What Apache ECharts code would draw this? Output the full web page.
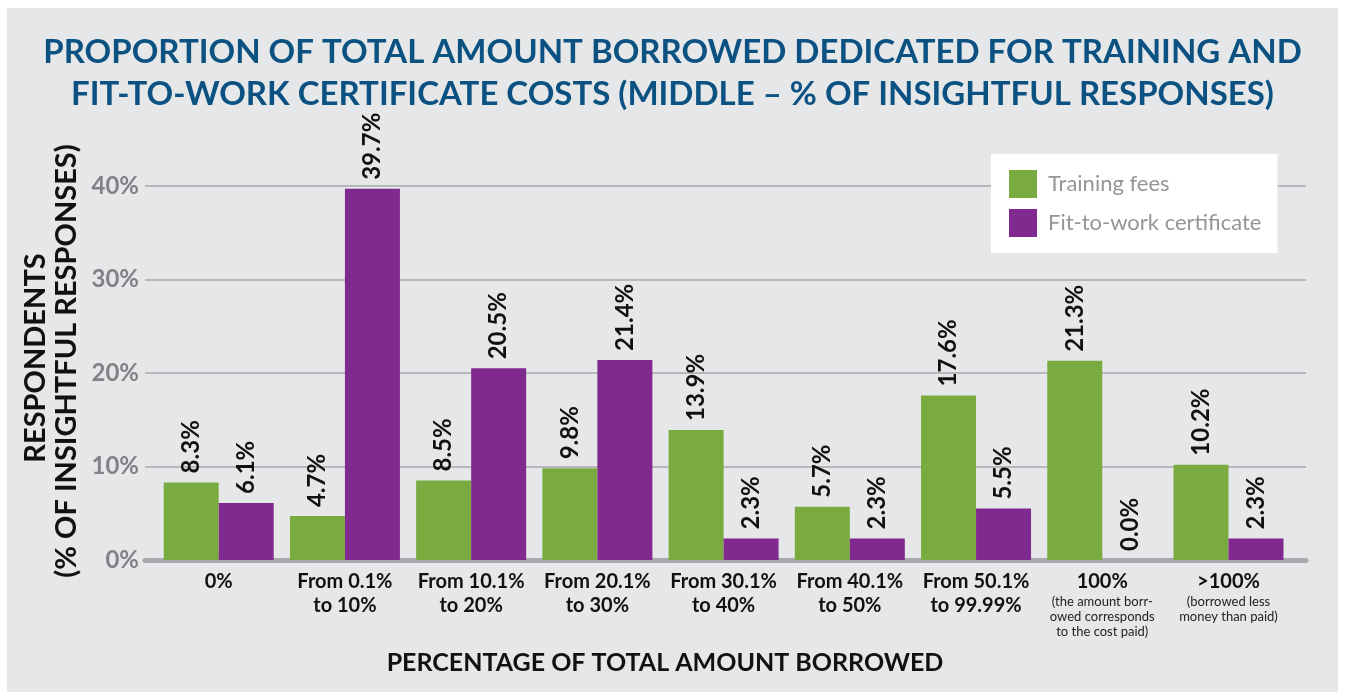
<!DOCTYPE html>
<html>
<head>
<meta charset="utf-8">
<script src="https://cdn.jsdelivr.net/npm/echarts@6/dist/echarts.min.js"></script>
<style>
  html, body { margin: 0; padding: 0; background: #fff; }
  #bg { position: absolute; left: 7px; top: 8px; width: 1331px; height: 684px; background: #e6e7e8; }
  #chart { position: absolute; left: 0; top: 0; width: 1345px; height: 698px; }
</style>
</head>
<body>
<div id="bg"></div>
<div id="chart"></div>
<script>
const categories = ['0%', 'From 0.1%\nto 10%', 'From 10.1%\nto 20%', 'From 20.1%\nto 30%', 'From 30.1%\nto 40%',
  'From 40.1%\nto 50%', 'From 50.1%\nto 99.99%', '100%', '>100%'];
const subLabels = ['', '', '', '', '', '', '', '(the amount borr-\nowed corresponds\nto the cost paid)', '(borrowed less\nmoney than paid)'];
const trainingFees = [8.3, 4.7, 8.5, 9.8, 13.9, 5.7, 17.6, 21.3, 10.2];
const fitToWork = [6.1, 39.7, 20.5, 21.4, 2.3, 2.3, 5.5, 0.0, 2.3];
const yTicks = [0, 10, 20, 30, 40];

const font = 'Lato, "Open Sans", sans-serif';

const valueLabel = {
  show: true,
  position: 'top',
  rotate: 90,
  align: 'left',
  verticalAlign: 'middle',
  distance: 9,
  fontFamily: font,
  fontWeight: 'bold',
  fontSize: 24,
  color: '#111',
  formatter: p => p.value.toFixed(1) + '%'
};

const myChart = echarts.init(document.getElementById('chart'));
myChart.setOption({
  backgroundColor: 'transparent',
  title: {
    text: 'PROPORTION OF TOTAL AMOUNT BORROWED DEDICATED FOR TRAINING AND\nFIT-TO-WORK CERTIFICATE COSTS (MIDDLE \u2013 % OF INSIGHTFUL RESPONSES)',
    left: 'center',
    top: 26,
    textStyle: {
      fontFamily: font,
      fontWeight: 'bold',
      fontSize: 33,
      lineHeight: 42,
      color: '#0b5282'
    }
  },
  legend: {
    orient: 'vertical',
    left: 991,
    top: 154,
    backgroundColor: '#fff',
    padding: [16, 16, 16, 18],
    itemWidth: 28,
    itemHeight: 28,
    itemGap: 11,
    icon: 'rect',
    textStyle: { fontFamily: font, fontSize: 22, color: '#939598', padding: [0, 0, 0, 6] },
    data: ['Training fees', 'Fit-to-work certificate']
  },
  graphic: [
    {
      type: 'text', x: 36, y: 358, rotation: Math.PI / 2,
      style: { text: 'RESPONDENTS', fontFamily: font, fontWeight: 'bold', fontSize: 29, fill: '#111', align: 'center', verticalAlign: 'middle' }
    },
    {
      type: 'text', x: 67, y: 361, rotation: Math.PI / 2,
      style: { text: '(% OF INSIGHTFUL RESPONSES)', fontFamily: font, fontWeight: 'bold', fontSize: 29, fill: '#111', align: 'center', verticalAlign: 'middle' }
    },
    {
      type: 'text', x: 665, y: 663,
      style: { text: 'PERCENTAGE OF TOTAL AMOUNT BORROWED', fontFamily: font, fontWeight: 'bold', fontSize: 25, fill: '#111', align: 'center', verticalAlign: 'middle' }
    }
  ],
  grid: [
    { left: 155.6, top: 186, width: 1136, height: 374 },
    { left: 145, top: 186, width: 1161, height: 374 }
  ],
  xAxis: [
    {
      gridIndex: 0,
      type: 'category',
      data: categories,
      axisLine: { show: false },
      axisTick: { show: false },
      axisLabel: {
        interval: 0,
        margin: 10,
        formatter: (v, i) => {
          const main = v.split('\n').map(s => '{m|' + s + '}').join('\n');
          const sub = subLabels[i] ? '\n' + subLabels[i].split('\n').map(s => '{s|' + s + '}').join('\n') : '';
          return main + sub;
        },
        rich: {
          m: { fontFamily: font, fontWeight: 'bold', fontSize: 20, color: '#111', lineHeight: 24 },
          s: { fontFamily: font, fontSize: 13, color: '#222', lineHeight: 15 }
        }
      }
    },
    {
      gridIndex: 1,
      type: 'value',
      min: 0,
      max: 1,
      axisLine: { show: true, lineStyle: { color: '#a7a9ac', width: 5 } },
      axisTick: { show: false },
      axisLabel: { show: false },
      splitLine: { show: false }
    }
  ],
  yAxis: [
    { gridIndex: 0, type: 'value', min: 0, max: 40, interval: 10, show: false },
    {
      gridIndex: 1,
      type: 'value',
      min: yTicks[0],
      max: yTicks[yTicks.length - 1],
      interval: 10,
      axisLine: { show: false },
      axisTick: { show: false },
      axisLabel: { margin: 6, formatter: '{value}%', fontFamily: font, fontWeight: 'bold', fontSize: 24, color: '#808285' },
      splitLine: { lineStyle: { color: '#a7a9ac', width: 1.5 } }
    }
  ],
  series: [
    {
      name: 'Training fees',
      type: 'bar',
      xAxisIndex: 0,
      yAxisIndex: 0,
      data: trainingFees,
      barWidth: 55,
      barGap: '0%',
      itemStyle: { color: '#79ab41' },
      label: valueLabel,
      z: 3
    },
    {
      name: 'Fit-to-work certificate',
      type: 'bar',
      xAxisIndex: 0,
      yAxisIndex: 0,
      data: fitToWork,
      barWidth: 55,
      barGap: '0%',
      itemStyle: { color: '#80298e' },
      label: valueLabel,
      z: 3
    }
  ]
});
</script>
</body>
</html>
